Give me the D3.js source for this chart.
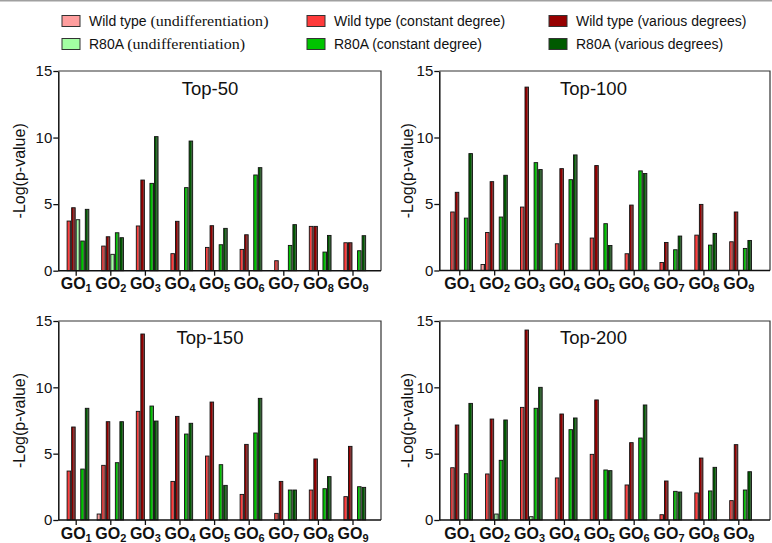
<!DOCTYPE html>
<html>
<head>
<meta charset="utf-8">
<script src="https://cdn.jsdelivr.net/npm/d3@7/dist/d3.min.js"></script>
<style>
  html, body { margin: 0; padding: 0; background: #fff; }
  svg { display: block; }
  .serif { font-family: "Liberation Serif", "Times New Roman", Tinos, "Nimbus Roman", serif; }
</style>
</head>
<body>
<div id="chart"></div>
<script>
// ---------------- DATA ----------------
const categories = ["GO1", "GO2", "GO3", "GO4", "GO5", "GO6", "GO7", "GO8", "GO9"];
const seriesKeys = ["wtUndiff", "wtConst", "wtVarious", "r80Undiff", "r80Const", "r80Various"];
const seriesLabels = [
  ["Wild type ", "(undifferentiation)"],
  ["Wild type (constant degree)", ""],
  ["Wild type (various degrees)", ""],
  ["R80A ", "(undifferentiation)"],
  ["R80A (constant degree)", ""],
  ["R80A (various degrees)", ""]
];
const seriesColors = ["#ff9e9e", "#ff3b3b", "#960000", "#a3ffa3", "#00c400", "#005a00"];
const panelTitles = ["Top-50", "Top-100", "Top-150", "Top-200"];
const yTicks = [0, 5, 10, 15];
const yMax = 15;
const yLabel = "-Log(p-value)";

// rows: wtUndiff, wtConst, wtVarious, r80Undiff, r80Const, r80Various
const top50 = [
  [0, 0, 0, 0, 0, 0, 0, 0, 0],
  [3.73, 1.85, 3.36, 1.28, 1.75, 1.6, 0.75, 3.33, 2.1],
  [4.73, 2.55, 6.81, 3.71, 3.38, 2.7, 0, 3.33, 2.1],
  [3.83, 1.23, 0, 0, 0, 0, 0, 0, 0],
  [2.23, 2.85, 6.56, 6.24, 1.95, 7.19, 1.9, 1.4, 1.5],
  [4.61, 2.48, 10.07, 9.74, 3.18, 7.74, 3.46, 2.65, 2.63]
];
const top100 = [
  [0, 0.45, 0, 0, 0, 0, 0, 0, 0],
  [4.4, 2.86, 4.77, 2.01, 2.44, 1.26, 0.6, 2.66, 2.16],
  [5.88, 6.68, 13.79, 7.66, 7.89, 4.92, 2.11, 4.97, 4.4],
  [0, 0, 0, 0, 0, 0, 0, 0, 0],
  [3.94, 4.02, 8.11, 6.83, 3.52, 7.49, 1.56, 1.91, 1.66],
  [8.79, 7.16, 7.59, 8.69, 1.88, 7.29, 2.59, 2.79, 2.26]
];
const top150 = [
  [0, 0.45, 0, 0, 0, 0, 0, 0, 0],
  [3.69, 4.12, 8.19, 2.91, 4.82, 1.93, 0.5, 2.26, 1.76],
  [7.01, 7.41, 14.02, 7.81, 8.89, 5.7, 2.91, 4.6, 5.55],
  [0, 0, 0, 0, 0, 0, 0, 0, 0],
  [3.84, 4.32, 8.59, 6.48, 4.17, 6.56, 2.26, 2.36, 2.51],
  [8.42, 7.41, 7.46, 7.29, 2.61, 9.17, 2.26, 3.27, 2.46]
];
const top200 = [
  [0, 0, 0, 0, 0, 0, 0, 0, 0],
  [3.94, 3.47, 8.49, 3.17, 4.95, 2.64, 0.4, 2.04, 1.46],
  [7.16, 7.61, 14.32, 7.99, 9.05, 5.83, 2.94, 4.67, 5.68],
  [0, 0.45, 0.25, 0, 0, 0, 0, 0, 0],
  [3.49, 4.5, 8.42, 6.81, 3.77, 6.18, 2.16, 2.19, 2.26],
  [8.79, 7.54, 10.0, 7.69, 3.72, 8.67, 2.11, 3.97, 3.64]
];
const panelData = [top50, top100, top150, top200];

// ---------------- LAYOUT ----------------
const W = 772, H = 543;
const layouts = [
  { left: 58.3, right: 381, top: 71, bottom: 270.7, padL: 17.4, padR: 28.5, titleX: 210, titleY: 95, yLabX: 25 },
  { left: 439.3, right: 770, top: 71, bottom: 270.5, padL: 20, padR: 31.7, titleX: 593.5, titleY: 95, yLabX: 413 },
  { left: 58.3, right: 381, top: 321, bottom: 520, padL: 17.4, padR: 28.5, titleX: 210, titleY: 344, yLabX: 25 },
  { left: 439.3, right: 770, top: 321, bottom: 520, padL: 20, padR: 31.7, titleX: 593.5, titleY: 344, yLabX: 413 }
];

const svg = d3.select("#chart").append("svg")
  .attr("width", W).attr("height", H)
  .attr("font-family", "'Liberation Sans', Arial, sans-serif");

// gradients to mimic shaded bars
const defs = svg.append("defs");
seriesColors.forEach((c, i) => {
  const shade = d3.interpolateRgb(c, "#6e6e6e")(0.5);
  const g = defs.append("linearGradient").attr("id", "grad" + i)
    .attr("x1", "0%").attr("x2", "100%").attr("y1", "0%").attr("y2", "0%");
  g.append("stop").attr("offset", "0%").attr("stop-color", c);
  g.append("stop").attr("offset", "50%").attr("stop-color", c);
  g.append("stop").attr("offset", "50%").attr("stop-color", shade);
  g.append("stop").attr("offset", "100%").attr("stop-color", shade);
});

// top grey rule
svg.append("line").attr("x1", 0).attr("x2", W).attr("y1", 0.5).attr("y2", 0.5)
  .attr("stroke", "#a0a0a0").attr("stroke-width", 2);

// ---------------- LEGEND ----------------
const legCols = [62, 307, 549];
const legRows = [21, 44];
seriesKeys.forEach((k, i) => {
  const col = i % 3, row = Math.floor(i / 3);
  const g = svg.append("g").attr("transform", `translate(${legCols[col]},${legRows[row]})`);
  g.append("rect").attr("x", 0).attr("y", -5.5).attr("width", 18).attr("height", 11)
    .attr("fill", seriesColors[i]).attr("stroke", "#333").attr("stroke-width", 1);
  const t = g.append("text").attr("x", 27).attr("y", 5).attr("font-size", 14).attr("fill", "#111")
    .attr("xml:space", "preserve").style("white-space", "pre")
    .text(seriesLabels[i][0]);
  if (seriesLabels[i][1]) {
    const w = t.node().getComputedTextLength();
    g.append("text").attr("class", "serif").attr("x", 27 + w).attr("y", 5)
      .attr("font-size", 15.5).attr("fill", "#111")
      .attr("textLength", 118).attr("lengthAdjust", "spacingAndGlyphs")
      .text(seriesLabels[i][1]);
  }
});

// ---------------- PANELS ----------------
panelData.forEach((data, p) => {
  const L = layouts[p];
  const g = svg.append("g");

  const x = d3.scalePoint().domain(categories).range([L.left + L.padL, L.right - L.padR]);
  const slot = 4.55;
  const inner = d3.scaleBand().domain(seriesKeys)
    .range([-slot * 3, slot * 3]).paddingInner(0.22).paddingOuter(0.11);
  const y = d3.scaleLinear().domain([0, yMax]).range([L.bottom, L.top]);

  // frame (top & right)
  g.append("path")
    .attr("d", `M${L.left},${L.top}H${L.right}V${L.bottom}`)
    .attr("fill", "none").attr("stroke", "#333").attr("stroke-width", 1.2);

  // bars
  seriesKeys.forEach((k, si) => {
    const vals = data[si].map((v, ci) => ({ cat: categories[ci], v }))
      .filter(d => d.v > 0);
    g.selectAll(null).data(vals).enter().append("rect")
      .attr("x", d => x(d.cat) + inner(k))
      .attr("width", inner.bandwidth())
      .attr("y", d => y(d.v))
      .attr("height", d => y(0) - y(d.v))
      .attr("fill", `url(#grad${si})`)
      .attr("stroke", "#111").attr("stroke-width", 0.9);
  });

  // y axis
  const ya = g.append("g").attr("transform", `translate(${L.left},0)`)
    .call(d3.axisLeft(y).tickValues(yTicks).tickSize(5).tickPadding(1).tickSizeOuter(0));
  ya.select(".domain").attr("stroke", "#111").attr("stroke-width", 1.5);
  ya.selectAll(".tick line").attr("stroke", "#111").attr("stroke-width", 1.3);
  ya.selectAll(".tick text").attr("font-size", 15).attr("fill", "#111")
    .attr("font-family", "'Liberation Sans', Arial, sans-serif");

  // x axis
  const xa = g.append("g").attr("transform", `translate(0,${L.bottom})`)
    .call(d3.axisBottom(x).tickSize(5).tickSizeOuter(0));
  xa.select(".domain").attr("d", `M${L.left},0H${L.right}`)
    .attr("stroke", "#111").attr("stroke-width", 1.5);
  xa.selectAll(".tick line").attr("stroke", "#111").attr("stroke-width", 1.3);
  xa.selectAll(".tick text").each(function (d) {
    const t = d3.select(this);
    t.text(null).attr("y", 18.5).attr("dy", null)
      .attr("font-size", 16).attr("font-weight", "bold").attr("fill", "#111")
      .attr("font-family", "'Liberation Sans', Arial, sans-serif");
    t.append("tspan").text(d.slice(0, 2));
    t.append("tspan").attr("font-size", 11).attr("dy", 3).text(d.slice(2));
  });

  // title
  g.append("text").attr("x", L.titleX).attr("y", L.titleY)
    .attr("text-anchor", "middle").attr("font-size", 18.5).attr("fill", "#111")
    .text(panelTitles[p]);

  // y label
  g.append("text")
    .attr("transform", `translate(${L.yLabX},${(L.top + L.bottom) / 2}) rotate(-90)`)
    .attr("text-anchor", "middle").attr("font-size", 16).attr("fill", "#111")
    .text(yLabel);
});
</script>
</body>
</html>
